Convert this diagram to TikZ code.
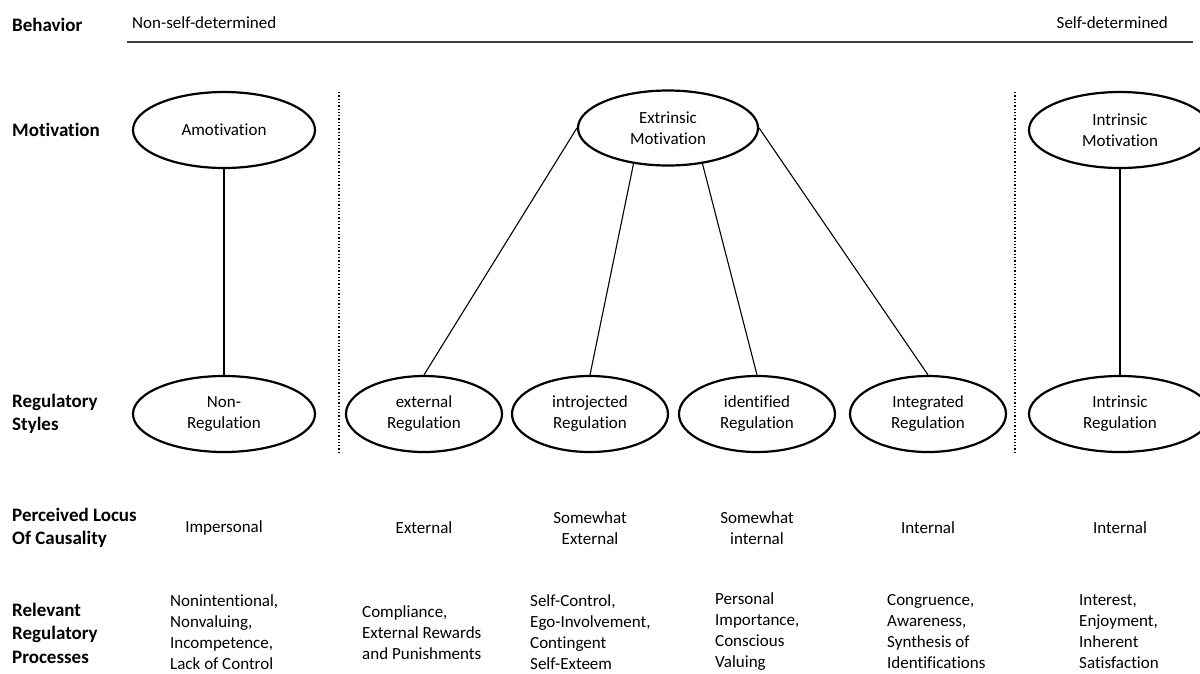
\documentclass[tikz,border=0pt]{standalone}
\usepackage{fontspec}
\setmainfont{Carlito}[Ligatures=NoCommon]
\usetikzlibrary{shapes,positioning}
\tikzset{
  sdt_e/.style = {ellipse, draw=black, line width=2.2pt, inner sep=0pt,
    align=center, font=\fontsize{17}{21}\selectfont},% ellipse, base
  sdt_w/.style = {sdt_e, minimum width=182pt, minimum height=76pt},% ellipse, wide
  sdt_n/.style = {sdt_e, minimum width=156pt, minimum height=76pt},% ellipse, narrow
  sdt_l/.style = {anchor=west, align=left, inner sep=0pt,
    font=\fontsize{19}{23.5}\selectfont\bfseries},% row label
  sdt_t/.style = {align=center, inner sep=0pt,
    font=\fontsize{17}{21}\selectfont},% locus text
  sdt_p/.style = {anchor=west, align=left, inner sep=0pt,
    font=\fontsize{17}{21}\selectfont},% process text
  sdt_d/.style = {dotted, line width=1.3pt},% separator
  sdt_c/.style = {line width=1.1pt}% connector
}
\begin{document}
\begin{tikzpicture}[x=1pt,y=-1pt]
        \useasboundingbox[fill=white] (0,0) rectangle (1200,673);
        \clip (0,0) rectangle (1200,673);
        % row labels
        \node [sdt_l] (lb) at (12,25) {Behavior};
        \node [sdt_l] (lm) at (12,130) {Motivation};
        \node [sdt_l] (lr) at (12,414) {Regulatory\\Styles};
        \node [sdt_l] (lc) at (12,528) {Perceived Locus\\Of Causality};
        \node [sdt_l] (lp) at (12,633) {Relevant\\Regulatory\\Processes};
        % behavior axis
        \node [sdt_p] (nsd) at (132,23) {Non-self-determined};
        \node [sdt_p, anchor=east] (sd) at (1168,23) {Self-determined};
        \coordinate (bl) at (127,42);
        \coordinate (br) at (1193,42);
        \draw [line width=1.3pt, black!75] (bl) -- (br);
        % separators
        \coordinate (s1t) at (339,92);
        \coordinate (s1b) at (339,452);
        \coordinate (s2t) at (1015,92);
        \coordinate (s2b) at (1015,452);
        \draw [sdt_d] (s1t) -- (s1b);
        \draw [sdt_d] (s2t) -- (s2b);
        % motivation
        \node [sdt_w] (amo) at (224,130) {Amotivation};
        \node [sdt_e, minimum width=180pt, minimum height=75pt] (ext) at (668,128) {Extrinsic\\Motivation};
        \node [sdt_w] (inm) at (1120,130) {Intrinsic\\Motivation};
        % regulatory styles
        \node [sdt_w] (nonr) at (224,414) {Non-\\Regulation};
        \node [sdt_n] (exr) at (424,414) {external\\Regulation};
        \node [sdt_n] (inj) at (590,414) {introjected\\Regulation};
        \node [sdt_n] (idf) at (757,414) {identified\\Regulation};
        \node [sdt_n] (itg) at (928,414) {Integrated\\Regulation};
        \node [sdt_w] (inr) at (1120,414) {Intrinsic\\Regulation};
        \draw [sdt_c] (amo.south) -- (nonr.north);
        \draw [sdt_c] (inm.south) -- (inr.north);
        \draw [sdt_c] (ext.west) -- (exr.north);
        \draw [sdt_c] (ext.226) -- (inj.north);
        \draw [sdt_c] (ext.314) -- (idf.north);
        \draw [sdt_c] (ext.east) -- (itg.north);
        % locus of causality
        \node [sdt_t] (c1) at (224,528) {Impersonal};
        \node [sdt_t] (c2) at (424,528) {External};
        \node [sdt_t] (c3) at (590,528) {Somewhat\\External};
        \node [sdt_t] (c4) at (757,528) {Somewhat\\internal};
        \node [sdt_t] (c5) at (928,528) {Internal};
        \node [sdt_t] (c6) at (1120,528) {Internal};
        % processes
        \node [sdt_p] (p1) at (170,632) {Nonintentional,\\Nonvaluing,\\Incompetence,\\Lack of Control};
        \node [sdt_p] (p2) at (362,633) {Compliance,\\External Rewards\\and Punishments};
        \node [sdt_p] (p3) at (530,632) {Self-Control,\\Ego-Involvement,\\Contingent\\Self-Exteem};
        \node [sdt_p] (p4) at (715,632) {Personal\\Importance,\\Conscious\\Valuing};
        \node [sdt_p] (p5) at (887,632) {Congruence,\\Awareness,\\Synthesis of\\Identifications};
        \node [sdt_p] (p6) at (1079,632) {Interest,\\Enjoyment,\\Inherent\\Satisfaction};
\end{tikzpicture}
\end{document}
